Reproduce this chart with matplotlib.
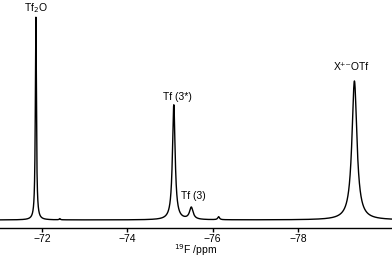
# 19F NMR spectrum redrawn from peak list
import numpy as np
import matplotlib
matplotlib.use('Agg')
import matplotlib.pyplot as plt

plt.rcParams['font.family'] = ['Liberation Sans', 'DejaVu Sans']

# peak list: position (ppm), height, FWHM (ppm)
peak_ppm = [-71.86, -72.42, -75.09, -75.50, -76.14, -79.32]
peak_height = [203, 1.2, 115, 12, 3, 139]
peak_fwhm = [0.03, 0.03, 0.075, 0.1, 0.05, 0.14]

# labels: text, ppm, height
label_text = ['Tf$_2$O', 'Tf (3*)', 'Tf (3)', 'X\u207a\u207bOTf']
label_ppm = [-71.86, -75.18, -75.56, -79.24]
label_y = [212, 123, 24, 153]

tick_vals = [-72, -74, -76, -78]


def main():
    fig = plt.figure(figsize=(3.92, 2.57), dpi=100)
    ax = fig.add_axes([0, 0.113, 1, 0.887])

    x = np.linspace(-70.9, -80.3, 6000)
    y = np.zeros_like(x)
    for p, h, w in zip(peak_ppm, peak_height, peak_fwhm):
        g = w / 2
        y += h * g ** 2 / ((x - p) ** 2 + g ** 2)
    ax.plot(x, y, color='black', lw=1.0)

    for t, p, yy in zip(label_text, label_ppm, label_y):
        ax.text(p, yy, t, ha='center', va='center', fontsize=7.5)

    ax.set_xlim(-71.02, -80.2)
    ax.set_ylim(-8, 220)
    ax.set_xticks(tick_vals)
    ax.set_xticklabels(['\u2212' + str(abs(v)) for v in tick_vals], fontsize=7.5)
    ax.set_yticks([])
    ax.set_xlabel('$^{19}$F /ppm', fontsize=7.5, labelpad=-1)
    for s in ['left', 'right', 'top']:
        ax.spines[s].set_visible(False)
    ax.spines['bottom'].set_linewidth(1.0)
    ax.tick_params(axis='x', direction='out', length=3, width=1, pad=1)

    fig.savefig('out.png', dpi=100)


if __name__ == '__main__':
    main()
